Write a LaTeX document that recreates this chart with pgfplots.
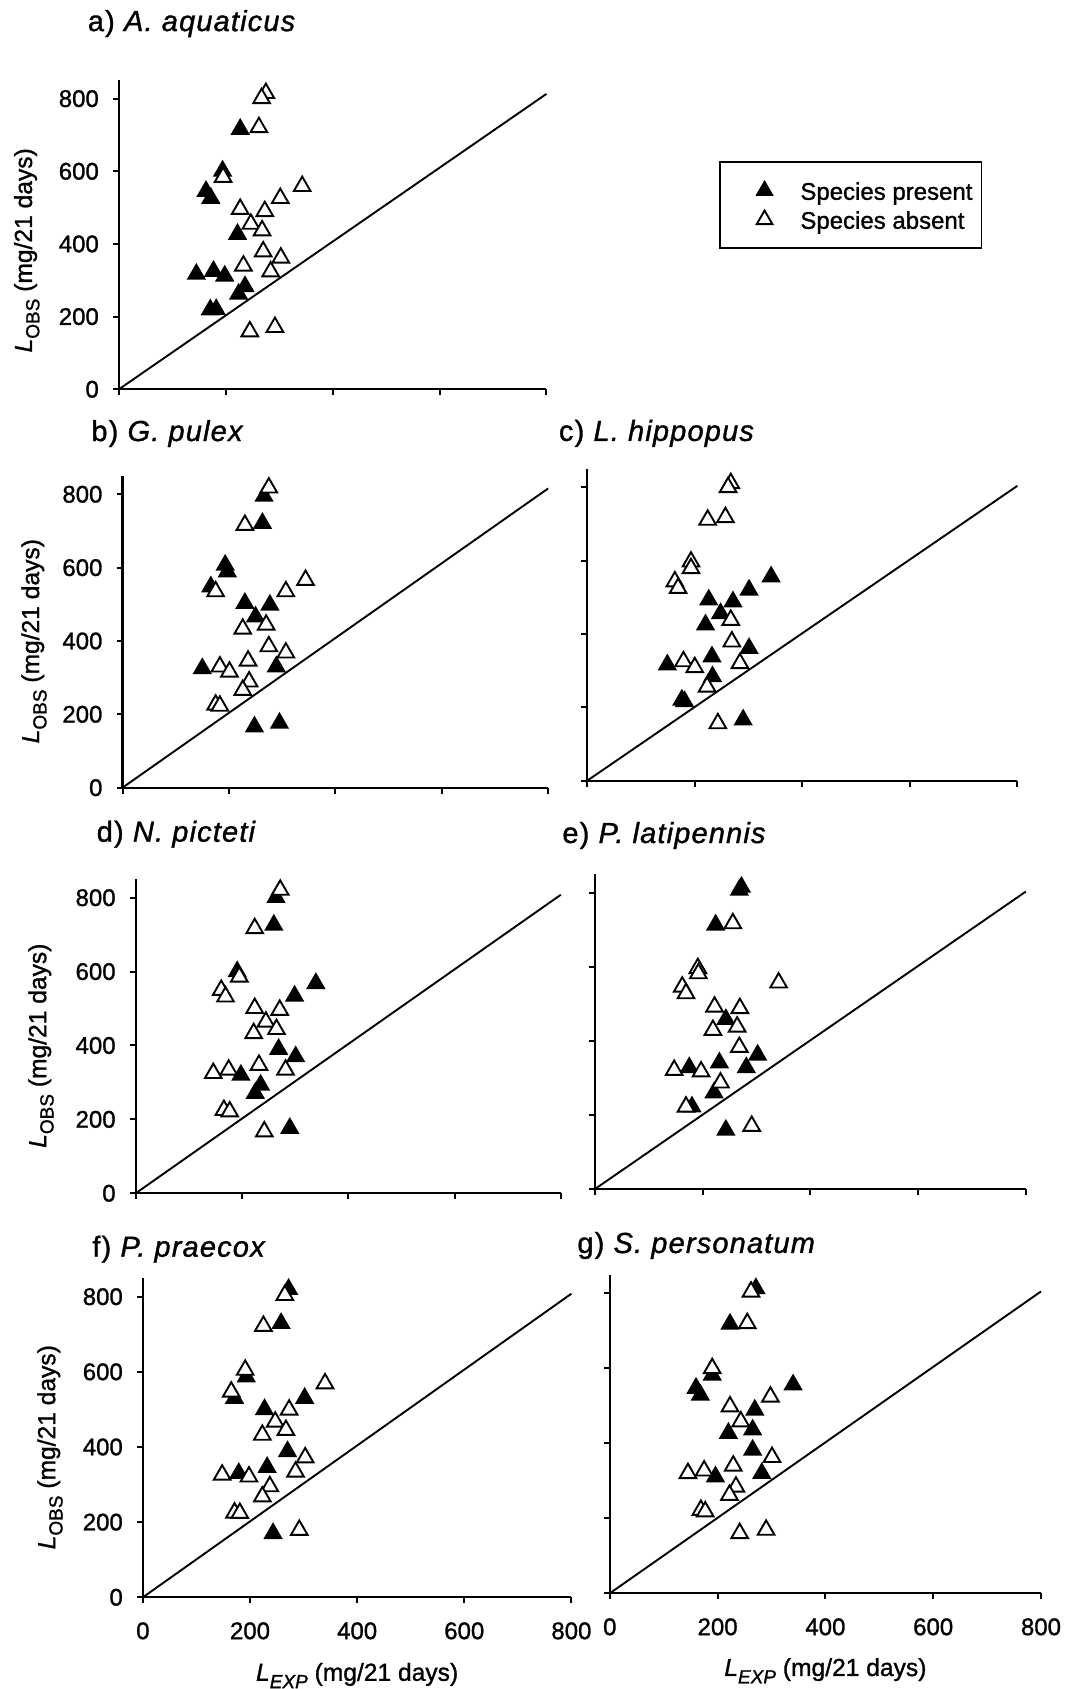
\documentclass[border=0pt]{standalone}
\usepackage{pgfplots}
\pgfplotsset{compat=1.18}
\usepackage{fontspec}
\setmainfont{Liberation Sans}[FakeBold=1.2]
\newfontfamily\titlefont{Liberation Sans}[FakeBold=1.2, LetterSpace=4]

\pgfplotsset{
  panel/.style={
    scale only axis,
    anchor=south west,
    xmin=0, xmax=800, ymin=0, ymax=850,
    axis lines*=left,
    axis line style={line width=1.1pt},
    xtick={0,200,400,600,800},
    ytick={0,200,400,600,800},
    tick align=outside,
    major tick length=3pt,
    tick style={line width=1pt, black},
    ticklabel style={font=\fontsize{12}{14}\selectfont},
    yticklabel style={xshift=-3.5pt},
    xticklabel style={yshift=-6pt},
    /pgf/number format/assume math mode=true,
    clip=false,
    title style={font=\titlefont\fontsize{14.5}{17}\selectfont, anchor=base west, inner sep=0pt, yshift=-6pt},
    ylabel style={font=\fontsize{12.3}{14}\selectfont, anchor=center},
    xlabel style={font=\fontsize{12.3}{14}\selectfont, anchor=center},
  },
  pres/.style={only marks, mark=triangle*, mark size=4.8pt, mark options={fill=black, draw=black, line width=0.8pt}},
  abs/.style={only marks, mark=triangle*, mark size=4.8pt, mark options={fill=white, draw=black, line width=0.95pt}},
  diag/.style={no marks, line width=0.95pt, black, forget plot},
}
\newcommand{\sub}[1]{\raisebox{-0.3em}{\fontsize{9.5}{10}\selectfont #1}}
\newcommand{\ylab}{\textit{L}\sub{OBS} (mg/21 days)}
\newcommand{\xlab}{\textit{L}\sub{\textit{EXP}} (mg/21 days)}

\begin{document}
\begin{tikzpicture}
\path[use as bounding box] (0pt,0pt) rectangle (534.5pt,844.5pt);

% a) A. aquaticus
\begin{axis}[panel, at={(59.45pt,649.85pt)}, width=213.75pt, height=154.4pt,
  xticklabels={},
  ylabel={\ylab}, ylabel style={at={(axis description cs:-0.2154,0.45)}},
  title={a) \textit{A. aquaticus}}, title style={at={(axis description cs:-0.0735,1.160)}},
  legend style={at={(axis description cs:1.4037,0.7393)}, anchor=north west, draw=black, line width=0.8pt,
    inner xsep=2.5pt, inner ysep=6pt, font=\fontsize{12}{14}\selectfont, row sep=-2pt, column sep=0pt,
    cells={anchor=west}},
  legend image code/.code={\path (0pt,-3pt) (35pt,9pt); \draw[#1,mark size=4.5pt] plot coordinates {(19.5pt,1pt)};},
  legend entries={Species present, Species absent}]
\addplot[diag] coordinates {(0,0) (800,813)};
\addplot[pres] coordinates {(227,716) (194,601) (163,545) (172,526) (222,427) (145,317) (177,325) (198,312) (236,283) (224,262) (171,219) (182,220)};
\addplot[abs] coordinates {(275,815) (267,801) (262,721) (195,584) (343,559) (302,526) (227,496) (273,490) (247,455) (268,437) (270,379) (303,362) (233,340) (284,324) (245,159) (292,171)};
\end{axis}

% b) G. pulex
\begin{axis}[panel, at={(61.25pt,450.65pt)}, width=212.85pt, height=155.87pt,
  xticklabels={},
  ylabel={\ylab}, ylabel style={at={(axis description cs:-0.208,0.47)}},
  title={b) \textit{G. pulex}}, title style={at={(axis description cs:-0.074,1.112)}}]
\addplot[diag] coordinates {(0,0) (800,816)};
\addplot[pres] coordinates {(266,795) (263,721) (193,607) (197,589) (166,548) (230,503) (277,498) (250,466) (150,325) (289,330) (248,166) (295,176)};
\addplot[abs] coordinates {(275,818) (230,716) (344,566) (307,535) (175,535) (226,433) (270,444) (275,385) (307,368) (236,346) (183,330) (201,316) (238,289) (226,266) (175,226) (183,223)};
\end{axis}

% c) L. hippopus
\begin{axis}[panel, at={(293.6pt,454.15pt)}, width=215.1pt, height=155.87pt,
  xticklabels={}, yticklabels={},
  title={c) \textit{L. hippopus}}, title style={at={(axis description cs:-0.0665,1.090)}}]
\addplot[diag] coordinates {(0,0) (800,804)};
\addplot[pres] coordinates {(342,556) (301,520) (226,493) (271,488) (248,456) (220,425) (301,361) (232,338) (149,316) (233,284) (176,220) (181,216) (290,166)};
\addplot[abs] coordinates {(267,811) (262,800) (224,711) (257,718) (193,597) (193,579) (163,543) (169,525) (267,438) (269,379) (179,325) (200,309) (284,320) (223,256) (243,156)};
\end{axis}

% d) N. picteti
\begin{axis}[panel, at={(67.85pt,247.85pt)}, width=212.55pt, height=157.04pt,
  xticklabels={},
  ylabel={\ylab}, ylabel style={at={(axis description cs:-0.2228,0.47)}},
  title={d) \textit{N. picteti}}, title style={at={(axis description cs:-0.0925,1.1195)}}]
\addplot[diag] coordinates {(0,0) (800,808)};
\addplot[pres] coordinates {(264,801) (260,726) (191,600) (339,568) (299,534) (269,390) (301,370) (198,320) (235,293) (225,271) (290,176)};
\addplot[abs] coordinates {(272,821) (224,717) (195,586) (161,550) (169,532) (224,501) (271,496) (245,464) (265,444) (222,433) (232,347) (146,325) (175,334) (282,334) (166,225) (177,221) (242,167)};
\end{axis}

% e) P. latipennis
\begin{axis}[panel, at={(297.5pt,250pt)}, width=215.4pt, height=157.41pt,
  xticklabels={}, yticklabels={},
  title={e) \textit{P. latipennis}}, title style={at={(axis description cs:-0.0766,1.099)}}]
\addplot[diag] coordinates {(0,0) (800,803)};
\addplot[pres] coordinates {(268,807) (272,815) (224,713) (243,458) (302,362) (231,341) (175,328) (281,328) (221,260) (180,222) (243,159)};
\addplot[abs] coordinates {(256,717) (191,596) (192,582) (162,546) (169,528) (341,557) (222,492) (269,488) (264,438) (219,429) (268,383) (147,321) (197,317) (233,287) (169,222) (291,170)};
\end{axis}

% f) P. praecox
\begin{axis}[panel, at={(71.45pt,45.85pt)}, width=214.25pt, height=159.69pt,
  ylabel={\ylab}, ylabel style={at={(axis description cs:-0.2168,0.47)}},
  xlabel={\xlab}, xlabel style={at={(axis description cs:0.5,-0.245)}},
  title={f) \textit{P. praecox}}, title style={at={(axis description cs:-0.1188,1.0664)}}]
\addplot[diag] coordinates {(0,0) (800,808)};
\addplot[pres] coordinates {(272,820) (258,729) (193,587) (171,530) (302,530) (227,500) (270,388) (232,346) (179,330) (243,170)};
\addplot[abs] coordinates {(265,804) (225,722) (191,605) (165,547) (340,569) (273,499) (247,467) (267,445) (223,432) (303,372) (285,334) (148,326) (198,321) (237,295) (223,268) (171,225) (181,224) (292,179)};
\end{axis}

% g) S. personatum
\begin{axis}[panel, at={(304.9pt,47.85pt)}, width=215.6pt, height=159.375pt,
  yticklabels={},
  xlabel={\xlab}, xlabel style={at={(axis description cs:0.5,-0.243)}},
  title={g) \textit{S. personatum}}, title style={at={(axis description cs:-0.076,1.0676)}}]
\addplot[diag] coordinates {(0,0) (800,805)};
\addplot[pres] coordinates {(271,813) (223,718) (190,582) (160,547) (168,529) (340,556) (269,489) (220,427) (265,436) (265,382) (196,311) (282,320)};
\addplot[abs] coordinates {(262,804) (255,720) (190,600) (298,524) (223,498) (243,458) (301,363) (229,340) (145,320) (175,327) (234,284) (222,262) (169,222) (177,218) (241,160) (290,169)};
\end{axis}
\end{tikzpicture}
\end{document}
